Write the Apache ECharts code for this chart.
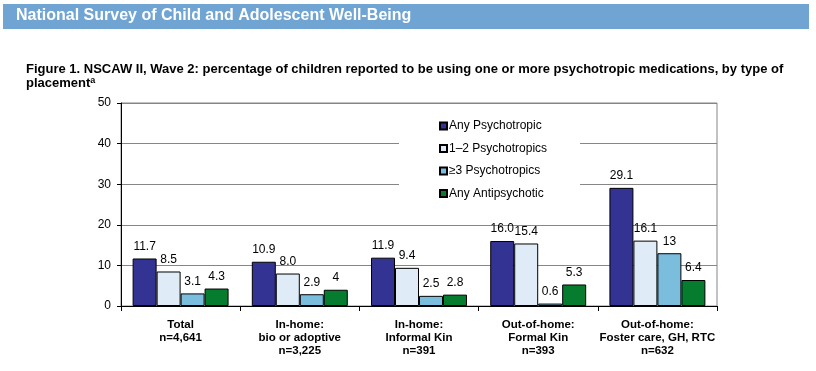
<!DOCTYPE html>
<html><head><meta charset="utf-8">
<script src="https://cdn.jsdelivr.net/npm/echarts@6/dist/echarts.min.js"></script>
<style>html,body{margin:0;padding:0;background:#fff}#c{width:816px;height:371px}</style>
</head><body><div id="c"></div>
<script>
const categories = ["Total\nn=4,641", "In-home:\nbio or adoptive\nn=3,225", "In-home:\nInformal Kin\nn=391", "Out-of-home:\nFormal Kin\nn=393", "Out-of-home:\nFoster care, GH, RTC\nn=632"];
const seriesNames = ["Any Psychotropic", "1\u20132 Psychotropics", "\u22653 Psychotropics", "Any Antipsychotic"];
const anyPsych = [11.7, 10.9, 11.9, 16.0, 29.1];
const onetwoPsych = [8.5, 8.0, 9.4, 15.4, 16.1];
const threePsych = [3.1, 2.9, 2.5, 0.6, 13];
const antiPsych = [4.3, 4, 2.8, 5.3, 6.4];
const anyLabels = ["11.7", "10.9", "11.9", "16.0", "29.1"];
const onetwoLabels = ["8.5", "8.0", "9.4", "15.4", "16.1"];
const threeLabels = ["3.1", "2.9", "2.5", "0.6", "13"];
const antiLabels = ["4.3", "4", "2.8", "5.3", "6.4"];
const yTicks = [0, 10, 20, 30, 40, 50];

const colors = ["#333393", "#DFEBF6", "#7BBDDD", "#067D2E"];
const values = [anyPsych, onetwoPsych, threePsych, antiPsych];
const labels = [anyLabels, onetwoLabels, threeLabels, antiLabels];
const FONT = "Liberation Sans, Arial, sans-serif";

const chart = echarts.init(document.getElementById('c'), null, {renderer: 'canvas'});
chart.setOption({
  animation: false,
  textStyle: {fontFamily: FONT},
  graphic: [
    {type: 'rect', shape: {x: 3, y: 4, width: 806, height: 25}, style: {fill: '#70A4D3'}, z: 0},
    {type: 'text', left: 16, top: 8, style: {text: 'National Survey of Child and Adolescent Well-Being', fill: '#fff', font: 'bold 16px ' + FONT}}
  ],
  title: {
    left: 26, top: 62, padding: 0,
    text: 'Figure 1. NSCAW II, Wave 2: percentage of children reported to be using one or more psychotropic medications, by type of\nplacement{s|a}',
    textStyle: {fontSize: 13, fontWeight: 'bold', color: '#000', lineHeight: 14, fontFamily: FONT,
      rich: {s: {fontSize: 9, fontWeight: 'bold', verticalAlign: 'top', lineHeight: 6, color: '#000', fontFamily: FONT}}}
  },
  legend: {
    orient: 'vertical', left: 399, top: 113, padding: [7, 33, 7, 40],
    backgroundColor: '#fff', itemWidth: 7, itemHeight: 7, itemGap: 10.5,
    icon: 'rect',
    textStyle: {fontSize: 12, color: '#000', fontFamily: FONT, padding: [0, 0, 0, -3]},
    data: seriesNames
  },
  grid: {left: 121, right: 99, top: 103, bottom: 65, show: true, borderColor: '#868686', borderWidth: 1, backgroundColor: 'transparent'},
  xAxis: {
    type: 'category', data: categories,
    axisLine: {lineStyle: {color: '#000', width: 1}},
    axisTick: {show: true, length: 5, lineStyle: {color: '#000'}},
    axisLabel: {fontSize: 11.5, fontWeight: 'bold', color: '#000', lineHeight: 13, margin: 12, interval: 0}
  },
  yAxis: {
    type: 'value', min: 0, max: 50, interval: 10,
    axisLine: {show: true, lineStyle: {color: '#000', width: 1}},
    axisTick: {show: true, length: 4, lineStyle: {color: '#000'}},
    axisLabel: {fontSize: 12, color: '#000', margin: 10},
    splitLine: {lineStyle: {color: '#868686', width: 1}}
  },
  series: seriesNames.map((n, i) => ({
    name: n, type: 'bar', data: values[i],
    barGap: '0%', barCategoryGap: '19.5%',
    itemStyle: {color: colors[i], borderColor: '#000', borderWidth: 1},
    label: {show: true, position: 'top', distance: 6, fontSize: 12, color: '#000', fontFamily: FONT,
      formatter: p => labels[i][p.dataIndex]}
  }))
});
</script></body></html>
